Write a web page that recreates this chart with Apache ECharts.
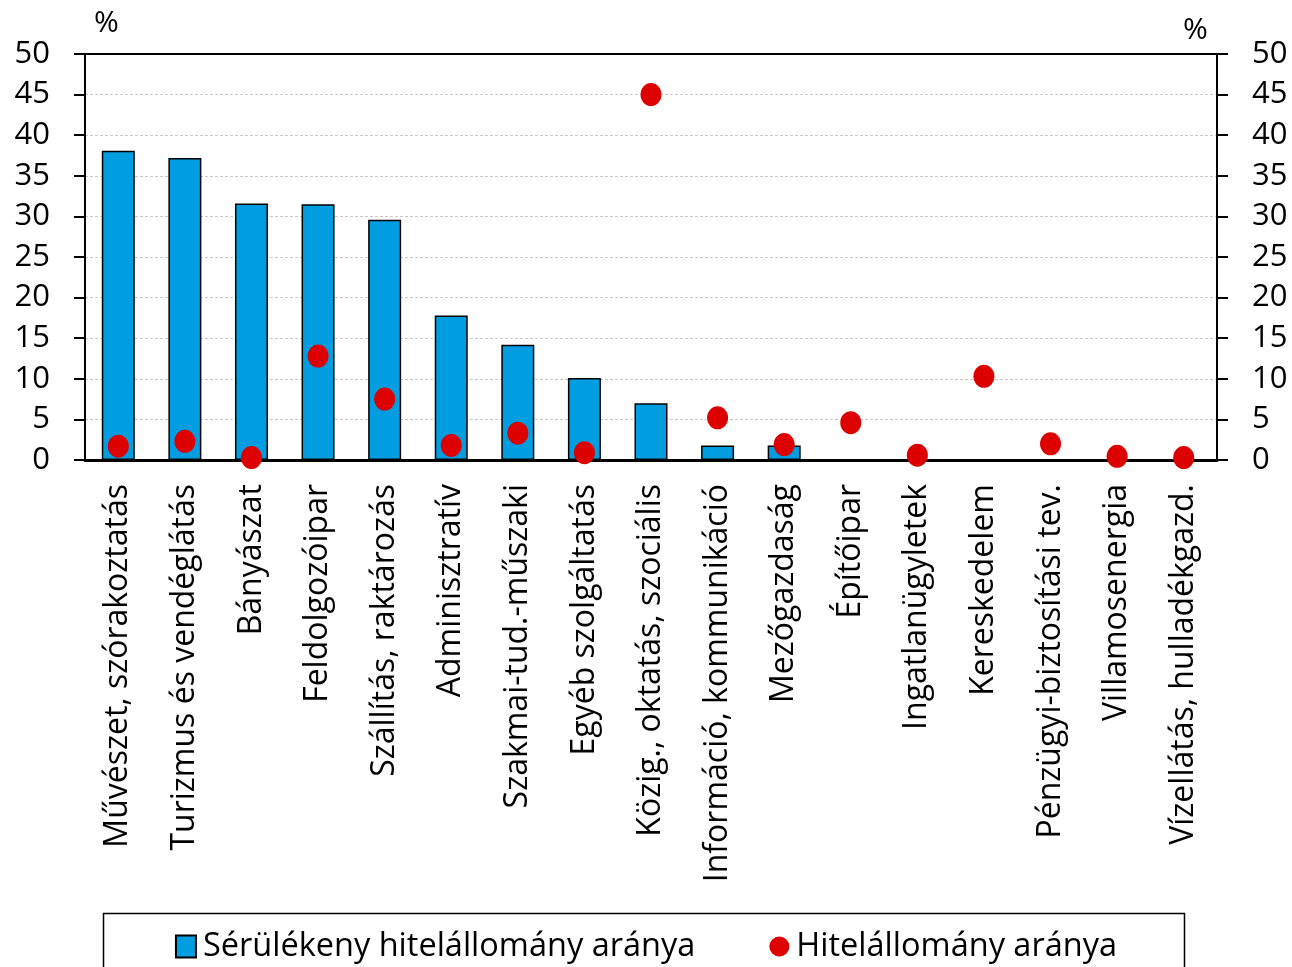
<!DOCTYPE html>
<html>
<head>
<meta charset="utf-8">
<script src="https://cdn.jsdelivr.net/npm/echarts@6/dist/echarts.min.js"></script>
<style>
	html, body { margin: 0; padding: 0; background: #fff; }
	#chart { width: 1292px; height: 967px; }
</style>
</head>
<body>
<div id="chart"></div>
<script>
	var categories = ['Művészet, szórakoztatás', 'Turizmus és vendéglátás', 'Bányászat', 'Feldolgozóipar',
		'Szállítás, raktározás', 'Adminisztratív', 'Szakmai-tud.-műszaki', 'Egyéb szolgáltatás',
		'Közig., oktatás, szociális', 'Információ, kommunikáció', 'Mezőgazdaság', 'Építőipar',
		'Ingatlanügyletek', 'Kereskedelem', 'Pénzügyi-biztosítási tev.', 'Villamosenergia', 'Vízellátás, hulladékgazd.'];
	var vulnerable = [38.1, 37.2, 31.6, 31.5, 29.6, 17.8, 14.2, 10.1, 7.0, 1.8, 1.8, null, null, null, null, null, null];
	var loanShare = [1.7, 2.3, 0.3, 12.8, 7.5, 1.8, 3.3, 0.9, 45.0, 5.2, 1.9, 4.6, 0.6, 10.3, 2.0, 0.45, 0.3];
	var yTicks = [0, 5, 10, 15, 20, 25, 30, 35, 40, 45, 50];

	var font = '"Open Sans", sans-serif';
	var yMax = yTicks[yTicks.length - 1];
	var gridLeft = 85, gridRight = 75, gridTop = 54, gridBottom = 507;
	var W = 1292;
	var chart = echarts.init(document.getElementById('chart'));

	var yAxisBase = {
		type: 'value',
		min: yTicks[0],
		max: yMax,
		interval: yTicks[1] - yTicks[0],
		axisLine: { show: true, lineStyle: { color: '#000', width: 2 } },
		axisTick: { show: true, length: 11, lineStyle: { color: '#000', width: 2 } },
		axisLabel: { color: '#000', fontSize: 31, fontFamily: font, margin: 35 }
	};

	var option = {
		animation: false,
		grid: { left: gridLeft, right: gridRight, top: gridTop, bottom: gridBottom },
		xAxis: {
			type: 'category',
			data: categories,
			axisLine: { lineStyle: { color: '#000', width: 3 } },
			axisTick: { show: false },
			axisLabel: {
				rotate: 90, interval: 0, margin: 24,
				color: '#000', fontSize: 32, fontFamily: font
			}
		},
		yAxis: [
			Object.assign({}, yAxisBase, {
				position: 'left',
				splitLine: { show: true, lineStyle: { color: '#c8c8c8', type: [3, 2], width: 1 } }
			}),
			Object.assign({}, yAxisBase, {
				position: 'right',
				splitLine: { show: false }
			})
		],
		legend: {
			left: 'center',
			top: 925,
			itemGap: 74,
			itemWidth: 20,
			itemHeight: 22,
			textStyle: { color: '#000', fontSize: 32.5, fontFamily: font, padding: [0, 0, 0, 2] },
			data: [
				{ name: 'Sérülékeny hitelállomány aránya', icon: 'rect' },
				{ name: 'Hitelállomány aránya', icon: 'circle' }
			]
		},
		graphic: [
			{ type: 'rect', left: 101, top: 911, shape: { width: 1081, height: 70 },
				style: { fill: 'none', stroke: '#000', lineWidth: 1.5 }, z: 0 },
			// top frame of the plot area
			{ type: 'line', z: 100,
				shape: { x1: gridLeft, y1: gridTop, x2: W - gridRight, y2: gridTop },
				style: { stroke: '#000', lineWidth: 2 } },
			{ type: 'text', left: 94, top: 8, style: { text: '%', fontSize: 30, fontFamily: font, fill: '#000' } },
			{ type: 'text', left: 1183, top: 15, style: { text: '%', fontSize: 30, fontFamily: font, fill: '#000' } }
		],
		series: [
			{
				name: 'Sérülékeny hitelállomány aránya',
				type: 'bar',
				barWidth: 33,
				data: vulnerable,
				itemStyle: { color: '#009EE0', borderColor: '#000', borderWidth: 1.5 }
			},
			{
				name: 'Hitelállomány aránya',
				type: 'scatter',
				symbol: 'circle',
				symbolSize: [21, 23],
				data: loanShare,
				itemStyle: { color: '#DD0000', opacity: 1 },
				z: 5
			}
		]
	};

	chart.setOption(option);
</script>
</body>
</html>
